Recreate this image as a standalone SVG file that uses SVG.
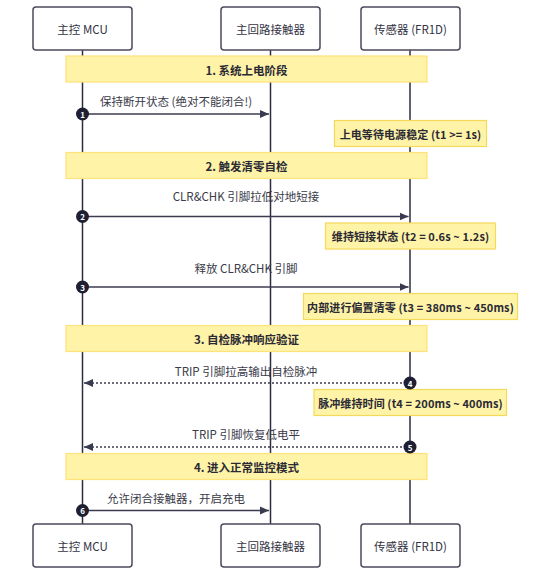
<svg xmlns="http://www.w3.org/2000/svg" width="551" height="575" viewBox="0 0 551 575">
<defs>
<style>
text{font-family:"Noto Sans CJK SC","Noto Sans",sans-serif;fill:#333344;}
.actor rect{fill:#ffffff;stroke:#4a4a5c;stroke-width:1.5;}
.actor text{font-size:11.5px;text-anchor:middle;dominant-baseline:central;}
.life{stroke:#2c2c40;stroke-width:1.5;fill:none;}
.phase rect{fill:#fff3a8;stroke:#ffe27a;stroke-width:1.2;}
.phase text{font-size:11.5px;font-weight:bold;text-anchor:middle;dominant-baseline:central;fill:#2a2a35;}
.note rect{fill:#fff3a8;stroke:#f5d95a;stroke-width:1.2;}
.note text{font-size:11px;font-weight:bold;text-anchor:middle;dominant-baseline:central;fill:#2a2a35;letter-spacing:0.1px;}
.msg{stroke:#3b3b50;stroke-width:1.5;fill:none;}
.dash{stroke-dasharray:2,2;}
.mlabel{font-size:11.5px;text-anchor:middle;fill:#3a3a48;}
.num circle{fill:#1f1f33;}
.num text{font-size:8px;font-weight:bold;fill:#ffffff;text-anchor:middle;dominant-baseline:central;}
</style>
<marker id="ah" markerWidth="10" markerHeight="10" refX="9" refY="5" orient="auto" markerUnits="userSpaceOnUse">
<path d="M0,1 L9,5 L0,9 Z" fill="#3b3b50"/>
</marker>
</defs>
<rect width="551" height="575" fill="#ffffff"/>
<g id="lifelines">
<line class="life" x1="82.5" y1="50" x2="82.5" y2="524"/>
<line class="life" x1="270.5" y1="50" x2="270.5" y2="524"/>
<line class="life" x1="410" y1="50" x2="410" y2="524"/>
</g>
<g id="actor-mcu-top" class="actor"><rect x="33" y="7" width="99" height="43" rx="3"/><text x="82.5" y="29">主控 MCU</text></g>
<g id="actor-contactor-top" class="actor"><rect x="221" y="7" width="99" height="43" rx="3"/><text x="270.5" y="29">主回路接触器</text></g>
<g id="actor-sensor-top" class="actor"><rect x="361" y="7" width="99" height="43" rx="3"/><text x="410.5" y="29">传感器 (FR1D)</text></g>
<g id="actor-mcu-bottom" class="actor"><rect x="33" y="524" width="99" height="43" rx="3"/><text x="82.5" y="546">主控 MCU</text></g>
<g id="actor-contactor-bottom" class="actor"><rect x="221" y="524" width="99" height="43" rx="3"/><text x="270.5" y="546">主回路接触器</text></g>
<g id="actor-sensor-bottom" class="actor"><rect x="361" y="524" width="99" height="43" rx="3"/><text x="410.5" y="546">传感器 (FR1D)</text></g>
<g id="phase1" class="phase"><rect x="66" y="56" width="361" height="26"/><text x="246.5" y="69.5">1. 系统上电阶段</text></g>
<g id="phase2" class="phase"><rect x="66" y="152.5" width="361" height="26"/><text x="246.5" y="165.5">2. 触发清零自检</text></g>
<g id="phase3" class="phase"><rect x="66" y="325.5" width="361" height="26"/><text x="246.5" y="338.5">3. 自检脉冲响应验证</text></g>
<g id="phase4" class="phase"><rect x="66" y="453.5" width="361" height="26"/><text x="246.5" y="466.5">4. 进入正常监控模式</text></g>
<g id="note1" class="note"><rect x="334.5" y="120.5" width="152" height="26"/><text x="410.5" y="133.5">上电等待电源稳定 (t1 &gt;= 1s)</text></g>
<g id="note2" class="note"><rect x="325.5" y="223" width="170" height="26"/><text x="410.5" y="236">维持短接状态 (t2 = 0.6s ~ 1.2s)</text></g>
<g id="note3" class="note"><rect x="303.5" y="293.5" width="214" height="26"/><text x="410.5" y="306.5">内部进行偏置清零 (t3 = 380ms ~ 450ms)</text></g>
<g id="note4" class="note"><rect x="314" y="389.5" width="192.5" height="26"/><text x="410.5" y="402.5">脉冲维持时间 (t4 = 200ms ~ 400ms)</text></g>
<g id="connectors">
<line class="msg" x1="82.5" y1="114" x2="269" y2="114" marker-end="url(#ah)"/>
<text class="mlabel" x="176" y="105.5">保持断开状态 (绝对不能闭合!)</text>
<line class="msg" x1="82.5" y1="216.5" x2="408.5" y2="216.5" marker-end="url(#ah)"/>
<text class="mlabel" x="246" y="201">CLR&amp;CHK 引脚拉低对地短接</text>
<line class="msg" x1="82.5" y1="287" x2="408.5" y2="287" marker-end="url(#ah)"/>
<text class="mlabel" x="246" y="273">释放 CLR&amp;CHK 引脚</text>
<line class="msg dash" x1="410" y1="383" x2="84" y2="383" marker-end="url(#ah)"/>
<text class="mlabel" x="246" y="375.5">TRIP 引脚拉高输出自检脉冲</text>
<line class="msg dash" x1="410" y1="447" x2="84" y2="447" marker-end="url(#ah)"/>
<text class="mlabel" x="246" y="439">TRIP 引脚恢复低电平</text>
<line class="msg" x1="82.5" y1="510.5" x2="269" y2="510.5" marker-end="url(#ah)"/>
<text class="mlabel" x="176" y="503">允许闭合接触器，开启充电</text>
<g class="num"><circle cx="82.5" cy="114" r="6.5"/><text x="82.5" y="114">1</text></g>
<g class="num"><circle cx="82.5" cy="216.5" r="6.5"/><text x="82.5" y="216.5">2</text></g>
<g class="num"><circle cx="82.5" cy="287" r="6.5"/><text x="82.5" y="287">3</text></g>
<g class="num"><circle cx="410" cy="383" r="6.5"/><text x="410" y="383">4</text></g>
<g class="num"><circle cx="410" cy="447" r="6.5"/><text x="410" y="447">5</text></g>
<g class="num"><circle cx="82.5" cy="510.5" r="6.5"/><text x="82.5" y="510.5">6</text></g>
</g>
</svg>
